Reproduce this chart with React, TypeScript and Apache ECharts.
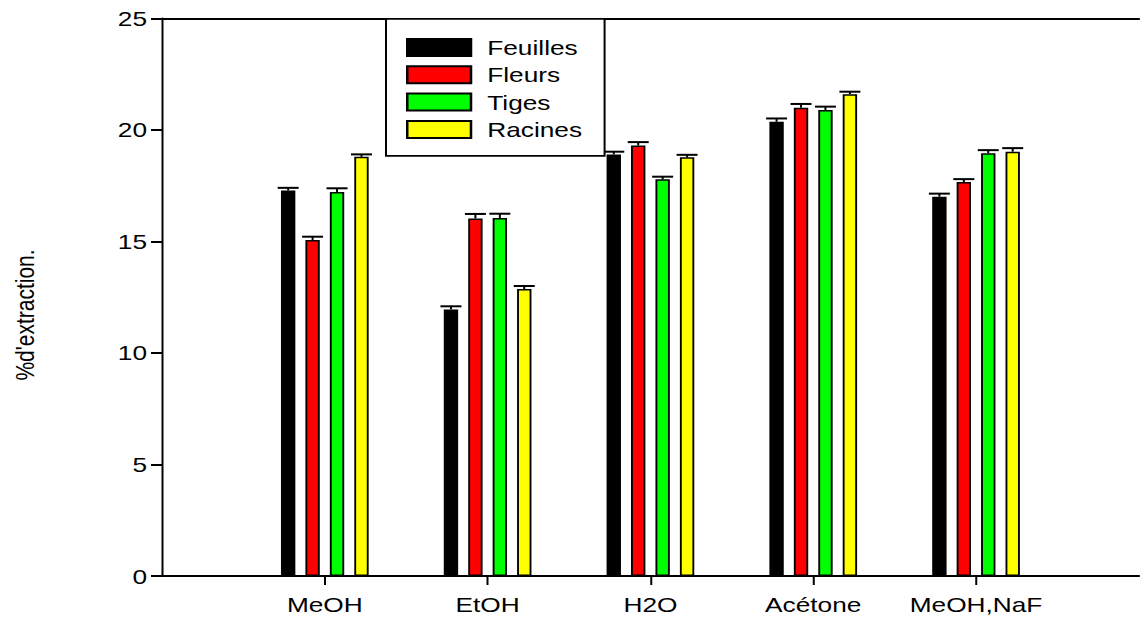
import React, { useEffect, useRef } from "react";
import * as echarts from "echarts";

const categories = ["MeOH", "EtOH", "H2O", "Acétone", "MeOH,NaF"];
const seriesNames = ["Feuilles", "Fleurs", "Tiges", "Racines"];
const feuilles = [17.28, 11.95, 18.9, 20.36, 17.0];
const fleurs = [15.06, 16.03, 19.3, 20.99, 17.66];
const tiges = [17.21, 16.05, 17.78, 20.89, 18.95];
const racines = [18.79, 12.86, 18.77, 21.6, 19.02];
const feuillesErr = [0.12, 0.14, 0.12, 0.15, 0.14];
const fleursErr = [0.15, 0.2, 0.15, 0.17, 0.13];
const tigesErr = [0.17, 0.19, 0.12, 0.15, 0.14];
const racinesErr = [0.11, 0.14, 0.11, 0.11, 0.16];
const colors = ["#000000", "#ff0000", "#00ff00", "#ffff00"];
const yTicks = [0, 5, 10, 15, 20, 25];

const FONT = '"Liberation Sans", Arial, Helvetica, sans-serif';
const SX = 1.25; // horizontal stretch of the original picture
const CHART_W = 917;
const BAR_W = 11.5;
const BAR_GAP = 0.7;

export default function App() {
  const ref = useRef<HTMLDivElement>(null);
  useEffect(() => {
    if (!ref.current) return;
    const chart = echarts.init(ref.current, null, { renderer: "svg" });
    const axisData = ["", ...categories, " "];
    const values = [feuilles, fleurs, tiges, racines];
    const errs = [feuillesErr, fleursErr, tigesErr, racinesErr];
    const step = BAR_W * (1 + BAR_GAP);

    const barSeries = values.map((vals, i) => ({
      name: seriesNames[i],
      type: "bar",
      xAxisIndex: 0,
      barWidth: BAR_W,
      barGap: `${BAR_GAP * 100}%`,
      itemStyle: { color: colors[i], borderColor: "#000", borderWidth: 1.5 },
      data: ["-", ...vals, "-"],
      z: 2,
    }));

    const errSeries = values.map((vals, i) => ({
      name: "err" + i,
      type: "custom",
      xAxisIndex: 0,
      z: 3,
      data: vals.map((v, k) => [k + 1, v, errs[i][k]]),
      renderItem: (_params: any, api: any) => {
        const x = api.value(0);
        const v = api.value(1);
        const e = api.value(2);
        const p0 = api.coord([x, v]);
        const p1 = api.coord([x, v + e]);
        const cx = p0[0] + (i - 1.5) * step;
        return {
          type: "group",
          children: [
            {
              type: "line",
              shape: { x1: cx, y1: p0[1], x2: cx, y2: p1[1] },
              style: { stroke: "#000", lineWidth: 1.6 },
            },
            {
              type: "line",
              shape: { x1: cx - 8.4, y1: p1[1], x2: cx + 8.4, y2: p1[1] },
              style: { stroke: "#000", lineWidth: 2 },
            },
          ],
        };
      },
    }));

    chart.setOption({
      animation: false,
      backgroundColor: "#fff",
      grid: { left: 129.6, right: 0, top: 18.3, bottom: 47, containLabel: false },
      xAxis: [
        {
          type: "category",
          data: axisData,
          boundaryGap: false,
          position: "bottom",
          axisLine: { show: true, lineStyle: { color: "#000", width: 2 } },
          axisTick: {
            show: true,
            length: 9,
            lineStyle: { color: "#000", width: 1.6 },
            interval: (_idx: number, val: string) => String(val).trim() !== "",
          },
          axisLabel: {
            interval: 0,
            margin: 18,
            color: "#000",
            fontSize: 21,
            fontFamily: FONT,
          },
          splitLine: { show: false },
        },
        {
          type: "category",
          data: axisData,
          boundaryGap: false,
          position: "top",
          axisLine: { show: true, lineStyle: { color: "#000", width: 2 } },
          axisTick: { show: false },
          axisLabel: { show: false },
          splitLine: { show: false },
        },
      ],
      yAxis: {
        type: "value",
        min: yTicks[0],
        max: yTicks[yTicks.length - 1],
        interval: 5,
        axisLine: { show: true, lineStyle: { color: "#000", width: 1.6 } },
        axisTick: { show: true, length: 8.8, lineStyle: { color: "#000", width: 2 } },
        axisLabel: { margin: 12, color: "#000", fontSize: 21, fontFamily: FONT },
        splitLine: { show: false },
      },
      legend: {
        data: seriesNames,
        orient: "vertical",
        left: 308.8,
        top: 19,
        padding: [18, 18, 16, 16],
        itemWidth: 51,
        itemHeight: 17,
        itemGap: 6.3,
        icon: "rect",
        selectedMode: false,
        borderColor: "#000",
        borderWidth: 1.6,
        backgroundColor: "#fff",
        textStyle: {
          fontSize: 21,
          fontFamily: FONT,
          color: "#000",
          padding: [0, 0, 0, 8],
        },
      },
      graphic: [
        {
          type: "text",
          x: 20,
          y: 315,
          rotation: Math.PI / 2,
          style: {
            text: "%d'extraction.",
            font: `21px ${FONT}`,
            fill: "#000",
            align: "center",
            verticalAlign: "middle",
          },
        },
      ],
      series: [...barSeries, ...errSeries],
    });
    return () => chart.dispose();
  }, []);

  return (
    <div
      style={{
        position: "absolute",
        left: 0,
        top: 0,
        width: 1141,
        height: 623,
        overflow: "hidden",
        background: "#fff",
      }}
    >
      <div
        ref={ref}
        style={{
          width: CHART_W,
          height: 623,
          transform: `scaleX(${SX})`,
          transformOrigin: "0 0",
        }}
      />
    </div>
  );
}
